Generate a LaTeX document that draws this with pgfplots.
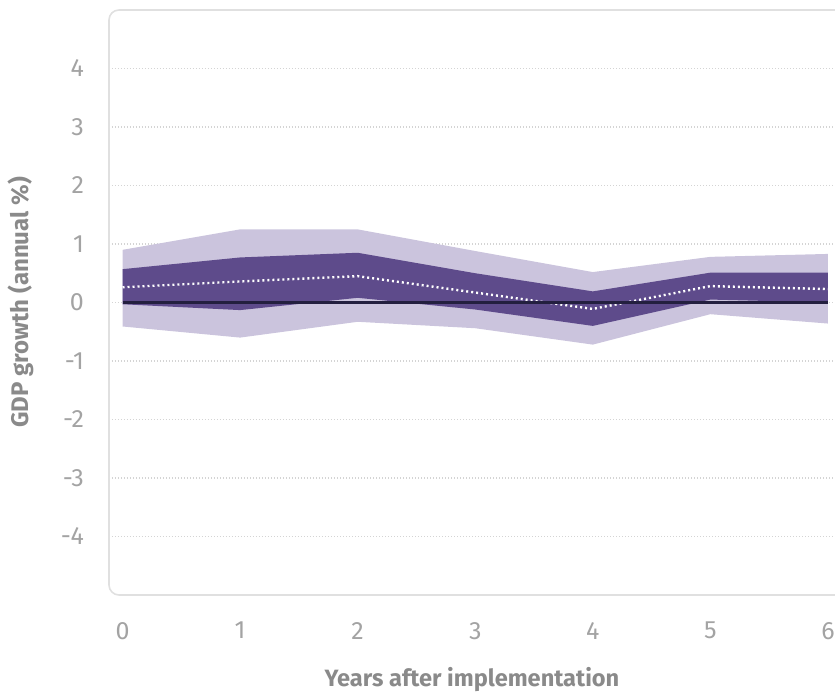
\documentclass[border=0pt]{standalone}
\usepackage{fontspec}
\setmainfont{Fira Sans}
\usepackage{pgfplots}
\usepackage{pgfplotstable}
\pgfplotsset{compat=1.18}
\usepgfplotslibrary{fillbetween}
\definecolor{lightband}{HTML}{CBC4DD}
\definecolor{darkband}{HTML}{5E4B8B}
\definecolor{zeroline}{HTML}{231F3F}
\definecolor{tickgray}{HTML}{A3A3A3}
\definecolor{labelgray}{HTML}{8A8A8A}
\definecolor{framegray}{HTML}{E0E0E0}
\definecolor{gridgray}{HTML}{D4D4D4}

\pgfplotstableread{
x lu ll du dl m
0 0.90 -0.41 0.57 -0.03 0.26
1 1.25 -0.60 0.77 -0.13 0.36
2 1.25 -0.33 0.85 0.08 0.45
3 0.88 -0.44 0.50 -0.12 0.17
4 0.52 -0.72 0.19 -0.40 -0.11
5 0.78 -0.20 0.51 0.05 0.28
6 0.83 -0.36 0.51 0.00 0.23
}\data

\begin{document}
\begin{tikzpicture}
\begin{axis}[
  scale only axis,
  width=363pt, height=292.5pt,
  xmin=-0.115, xmax=6.06, ymin=-5, ymax=5,
  axis line style={draw=none},
  tick style={draw=none},
  xtick={0,1,2,3,4,5,6},
  ytick={-4,-3,-2,-1,0,1,2,3,4},
  ymajorgrids,
  grid style={gridgray, dash pattern=on 0.6pt off 0.9pt, line width=0.6pt},
  /pgf/number format/assume math mode=true,
  ticklabel style={font=\fontsize{12.5}{14}\selectfont, text=tickgray},
  yticklabel style={anchor=east, xshift=-9pt},
  xticklabel style={anchor=north, yshift=-10pt},
]
\addplot[name path=lu, draw=none] table[x=x, y=lu] {\data};
\addplot[name path=ll, draw=none] table[x=x, y=ll] {\data};
\addplot[lightband] fill between[of=lu and ll];
\addplot[name path=du, draw=none] table[x=x, y=du] {\data};
\addplot[name path=dl, draw=none] table[x=x, y=dl] {\data};
\addplot[darkband] fill between[of=du and dl];
\addplot[white, line width=1.2pt, dash pattern=on 1pt off 1.5pt] table[x=x, y=m] {\data};
\addplot[zeroline, line width=1.7pt] coordinates {(0,0) (6,0)};
\end{axis}
\draw[framegray, line width=0.8pt, rounded corners=5pt] (current axis.south west) rectangle ([xshift=20pt]current axis.north east);
\node[rotate=90, anchor=center, text=labelgray, font=\bfseries\fontsize{12}{14}\selectfont] at ([xshift=-44pt]current axis.west) {GDP growth (annual \%)};
\node[anchor=base, text=labelgray, font=\bfseries\fontsize{11.8}{14}\selectfont] at ([yshift=-46pt]current axis.south) {Years after implementation};
\pgfresetboundingbox
\path[use as bounding box] ([xshift=-54.5pt,yshift=-49.5pt]current axis.south west) rectangle ([yshift=5pt]current axis.north east);
\end{tikzpicture}
\end{document}
